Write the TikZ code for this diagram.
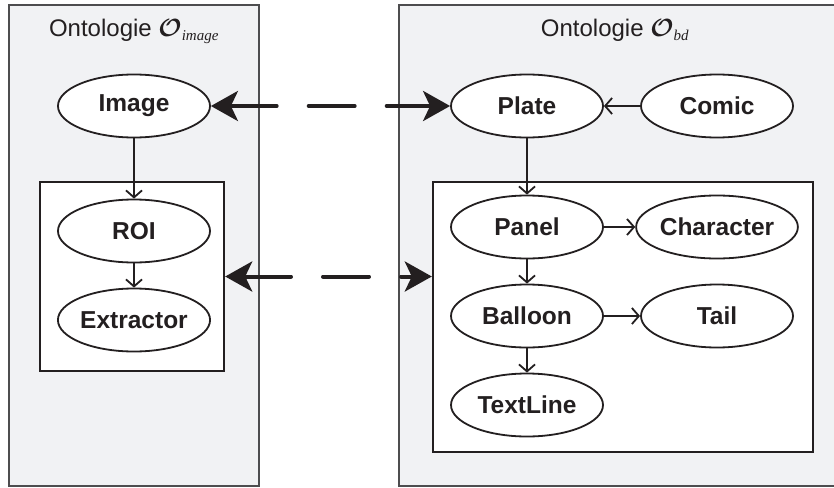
\documentclass[tikz,border=0pt]{standalone}
\usepackage{fontspec}
\setmainfont{Liberation Sans}
\newfontfamily\timesfont{Liberation Serif}
\usepackage{bm}
\usepackage{tikz}
\usetikzlibrary{arrows.meta,calc,shapes.geometric}
\definecolor{bggray}{HTML}{F1F2F4}
\definecolor{framegray}{HTML}{4D4D4F}
\definecolor{ink}{HTML}{231F20}
\newcommand{\onto}[1]{Ontologie $\bm{\mathcal{O}}_{\mbox{\timesfont\itshape\fontsize{15}{16}\selectfont #1}}$}

\begin{document}
\begin{tikzpicture}[x=1pt,y=-1pt,
		concept/.style={ellipse,draw=ink,line width=1.8pt,fill=white,minimum width=152pt,minimum height=63pt,inner sep=0pt,font=\bfseries\fontsize{24.5}{28}\selectfont,text=ink},
		group/.style={draw=ink,line width=2.4pt,fill=white,inner sep=0pt},
		rel/.style={draw=ink,line width=1.8pt,-{Straight Barb[length=7pt,width=16pt]}},
		link/.style={draw=ink,line width=4pt,line cap=round,dash pattern=on 47pt off 32pt on 46pt off 32pt on 100pt,{Stealth[length=27pt,width=30pt,inset=7pt]}-{Stealth[length=27pt,width=30pt,inset=7pt]}},
		title/.style={anchor=base,font=\fontsize{24}{28}\selectfont,text=ink}]
		\useasboundingbox (0,0) rectangle (834,487);
		\draw[draw=framegray,fill=bggray,line width=1.5pt] (9,5) rectangle (259,486);
		\draw[draw=framegray,fill=bggray,line width=1.5pt] (399,5) rectangle (840,486);
		\node[title] (timg) at (134,37) {\onto{image}};
		\node[title] (tbd) at (615,37) {\onto{bd}};
		\node[group,minimum width=184pt,minimum height=189pt] (gimg) at (132,276.5) {};
		\node[group,minimum width=380pt,minimum height=270pt] (gbd) at (623,317) {};
		\node[concept] (image) at (134,106) {Image};
		\node[concept] (roi) at (134,231) {ROI};
		\node[concept] (extr) at (134,320) {Extractor};
		\node[concept] (plate) at (527,106) {Plate};
		\node[concept] (comic) at (717,106) {Comic};
		\node[concept] (panel) at (527,227) {Panel};
		\node[concept] (charac) at (717,227) {Character};
		\node[concept] (balloon) at (527,316) {Balloon};
		\node[concept] (tail) at (717,316) {Tail};
		\node[concept] (textline) at (527,405) {TextLine};
		\foreach \a/\b in {image/roi,roi/extr,comic/plate,plate/panel,panel/charac,panel/balloon,balloon/tail,balloon/textline} {
			\draw[rel] (\a) -- (\b);
		};
		\draw[link] (image) -- (plate);
		\draw[link] (gimg.east) -- (gimg.east -| gbd.west);
	\end{tikzpicture}
\end{document}
